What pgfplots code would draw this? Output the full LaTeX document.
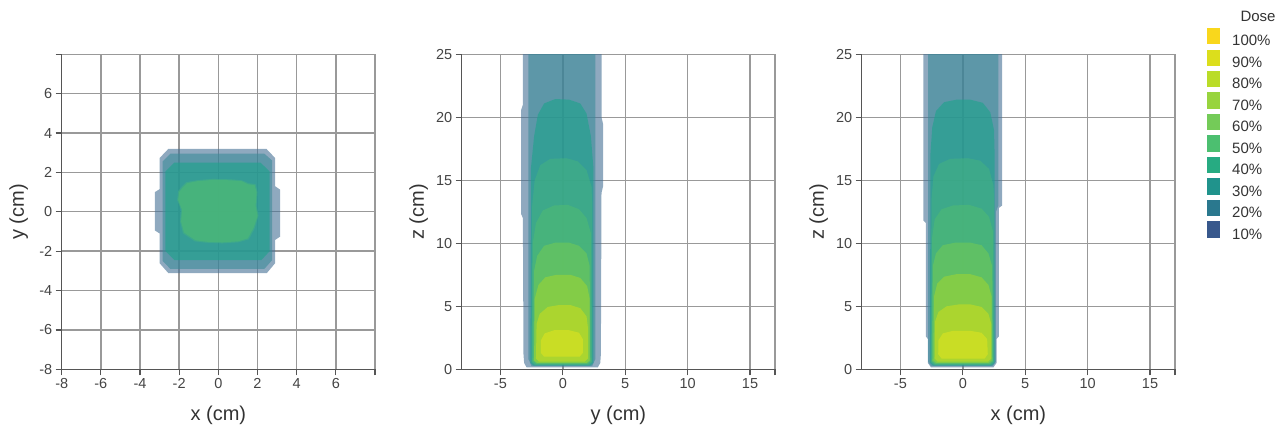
\documentclass[border=0pt]{standalone}
\usepackage{fontspec}
\setmainfont{Liberation Sans}
\usepackage{pgfplots}
\pgfplotsset{compat=1.18}

% legend colours
\definecolor{c10}{HTML}{38588C}
\definecolor{c20}{HTML}{2A788E}
\definecolor{c30}{HTML}{20938C}
\definecolor{c40}{HTML}{27AB82}
\definecolor{c50}{HTML}{4CBF70}
\definecolor{c60}{HTML}{74CB58}
\definecolor{c70}{HTML}{98D43E}
\definecolor{c80}{HTML}{BADC28}
\definecolor{c90}{HTML}{DCDE1C}
\definecolor{c100}{HTML}{F9D71C}
% translucent layer colours (stacked on top of each other)
\definecolor{f10}{RGB}{68,112,148}
\definecolor{f20}{RGB}{60,139,153}
\definecolor{f30}{RGB}{28,163,140}
\definecolor{f40}{RGB}{67,178,130}
\definecolor{f50}{RGB}{80,186,116}
\definecolor{f60}{RGB}{111,202,86}
\definecolor{f70}{RGB}{156,212,53}
\definecolor{f80}{RGB}{199,220,32}
\definecolor{f90}{RGB}{222,227,31}
\definecolor{gridc}{HTML}{999999}
\definecolor{axc}{HTML}{555555}
\definecolor{tickc}{HTML}{444444}
\definecolor{labc}{HTML}{333333}

\pgfplotsset{
  panel/.style={
    scale only axis, width=313.3bp, height=315bp, anchor=south west,
    axis x line*=bottom, axis y line*=left,
    axis line style={draw=axc, line width=1.3bp},
    grid=major, grid style={draw=gridc, line width=1.4bp},
    tick align=outside, major tick length=6bp,
    tick style={draw=axc, line width=1.2bp},
    ticklabel style={font=\fontsize{14.5bp}{16bp}\selectfont, text=tickc},
    label style={font=\fontsize{20bp}{22bp}\selectfont, text=labc},
    xlabel style={at={(axis description cs:0.5,-0.145)}, anchor=center},
    ylabel style={at={(axis description cs:-0.137,0.5)}, anchor=center},
    /pgf/number format/assume math mode=true,
  },
  side/.style={panel, xmin=-8.1, xmax=17, ymin=0, ymax=25,
    xtick={-5,0,5,10,15}, xticklabels={-5,0,5,10,15},
    ytick={0,5,...,25},
    extra x ticks={17}, extra x tick labels={},
    extra x tick style={grid=major}},
  lvl/.style={fill=#1, fill opacity=0.6, draw=none, forget plot},
}

\begin{document}
\begin{tikzpicture}
\path[use as bounding box] (0,0) rectangle (1282bp,432bp);

% ---- transverse slice (x-y)
\begin{axis}[panel, at={(61.7bp,62.7bp)},
  xmin=-8, xmax=8, ymin=-8, ymax=8,
  xtick={-8,-6,...,8}, xticklabels={-8,-6,-4,-2,0,2,4,6,{}},
  ytick={-8,-6,...,8}, yticklabels={-8,-6,-4,-2,0,2,4,6,{}},
  xlabel={x (cm)}, ylabel={y (cm)}]
\addplot[lvl=f10] coordinates {(-2.55,3.2) (2.45,3.2) (2.9,2.73) (2.9,1.3) (3.16,1.12) (3.16,-1.26) (2.9,-1.43) (2.9,-2.61) (2.47,-3.12) (-2.55,-3.12) (-3.0,-2.61) (-3.0,-1.1) (-3.24,-0.95) (-3.24,1.0) (-3.0,1.15) (-3.0,2.73)} -- cycle;
\addplot[lvl=f20] coordinates {(-2.45,2.95) (2.35,2.95) (2.75,2.6) (2.75,-2.45) (2.35,-2.9) (-2.45,-2.9) (-2.85,-2.5) (-2.85,2.55)} -- cycle;
\addplot[lvl=f30] coordinates {(-2.25,2.5) (2.15,2.5) (2.62,2.05) (2.62,-2.0) (2.2,-2.45) (-2.25,-2.45) (-2.7,-2.0) (-2.7,2.05)} -- cycle;
\addplot[lvl=f40] coordinates {(-1.65,1.5) (-1.1,1.6) (-0.3,1.67) (0.6,1.65) (1.2,1.6) (1.55,1.45) (1.9,1.4) (2.0,1.0) (1.95,0.3) (2.05,-0.2) (1.85,-0.85) (1.55,-1.4) (1.0,-1.55) (0.2,-1.6) (-0.6,-1.57) (-1.2,-1.5) (-1.8,-1.1) (-1.95,-0.5) (-1.9,0.1) (-2.1,0.6) (-2.05,1.05) (-1.85,1.3)} -- cycle;
\addplot[lvl=f50] coordinates {(-1.6,1.45) (-1.1,1.55) (-0.3,1.62) (0.6,1.6) (1.2,1.55) (1.5,1.4) (1.85,1.35) (1.95,1.0) (1.9,0.3) (2.0,-0.2) (1.8,-0.8) (1.5,-1.35) (1.0,-1.5) (0.2,-1.55) (-0.6,-1.52) (-1.15,-1.45) (-1.75,-1.05) (-1.9,-0.5) (-1.85,0.1) (-2.05,0.6) (-2.0,1.0) (-1.8,1.25)} -- cycle;
\end{axis}

% ---- depth profile (y-z)
\begin{axis}[side, at={(461.7bp,62.7bp)}, xlabel={y (cm)}, ylabel={z (cm)}]
\addplot[lvl=f10] coordinates {(-3.2,25.5) (-3.2,21) (-3.33,20.6) (-3.33,12.3) (-3.2,12) (-3.15,1.2) (-3.1,0.5) (-2.9,0.15) (2.8,0.15) (3.0,0.5) (3.05,1.2) (3.1,14) (3.22,14.5) (3.22,19.5) (3.1,20) (3.1,25.5)} -- cycle;
\addplot[lvl=f20] coordinates {(-2.75,25.5) (-2.75,0.8) (-2.5,0.25) (2.35,0.25) (2.6,0.8) (2.6,25.5)} -- cycle;
\addplot[lvl=f30] coordinates {(-2.6,0.5) (-2.55,16) (-2.3,18.5) (-2.0,20.2) (-1.5,21.1) (-0.6,21.45) (0.5,21.4) (1.4,21.1) (1.9,20.3) (2.25,18.5) (2.45,16) (2.45,0.5) (2.2,0.3) (-2.35,0.3)} -- cycle;
\addplot[lvl=f40] coordinates {(-2.5,0.55) (-2.45,13) (-2.25,15) (-1.8,16.2) (-1.0,16.7) (0.3,16.75) (1.2,16.5) (1.9,15.8) (2.3,14.5) (2.35,13) (2.35,0.55) (2.1,0.35) (-2.25,0.35)} -- cycle;
\addplot[lvl=f50] coordinates {(-2.45,0.6) (-2.4,10) (-2.15,11.6) (-1.6,12.6) (-0.7,13.0) (0.4,13.05) (1.3,12.7) (1.9,12.0) (2.25,10.8) (2.3,0.6) (2.05,0.4) (-2.2,0.4)} -- cycle;
\addplot[lvl=f60] coordinates {(-2.35,0.65) (-2.3,7.8) (-2.05,9.0) (-1.5,9.8) (-0.6,10.05) (0.5,10.05) (1.3,9.8) (1.9,9.2) (2.15,8.2) (2.2,0.65) (1.95,0.45) (-2.1,0.45)} -- cycle;
\addplot[lvl=f70] coordinates {(-2.3,0.7) (-2.25,5.6) (-1.95,6.7) (-1.4,7.3) (-0.5,7.5) (0.6,7.5) (1.4,7.25) (1.95,6.6) (2.15,5.6) (2.15,0.7) (1.9,0.5) (-2.05,0.5)} -- cycle;
\addplot[lvl=f80] coordinates {(-2.15,0.85) (-2.1,3.6) (-1.85,4.4) (-1.2,4.95) (-0.3,5.1) (0.6,5.1) (1.4,4.85) (1.9,4.2) (2.0,3.4) (2.0,0.85) (1.75,0.6) (-1.9,0.6)} -- cycle;
\addplot[lvl=f90] coordinates {(-1.75,1.3) (-1.75,2.3) (-1.45,2.85) (-0.7,3.1) (0.5,3.1) (1.3,2.9) (1.6,2.4) (1.6,1.3) (1.35,1.0) (-1.5,1.0)} -- cycle;
\end{axis}

% ---- depth profile (x-z)
\begin{axis}[side, at={(861.7bp,62.7bp)}, xlabel={x (cm)}, ylabel={z (cm)},
  legend style={at={(axis description cs:1.102,1.084)}, anchor=north west,
    draw=none, fill=none, inner sep=0pt, row sep=2.1bp,
    font=\fontsize{15bp}{17bp}\selectfont, text=labc,
    nodes={inner xsep=0pt, inner ysep=0pt},
    /tikz/every odd column/.append style={column sep=12bp}},
  legend cell align=left,
  legend image code/.code={\fill[#1, draw=none] (0bp,-2.8bp) rectangle (13bp,13.4bp);}]
\addplot[lvl=f10] coordinates {(-3.15,25.5) (-3.15,11.8) (-2.95,11.6) (-2.95,2.6) (-2.8,2.4) (-2.8,0.5) (-2.55,0.15) (2.45,0.15) (2.7,0.5) (2.7,2.4) (2.88,2.6) (2.88,12.8) (3.15,13.0) (3.15,25.5)} -- cycle;
\addplot[lvl=f20] coordinates {(-2.78,25.5) (-2.78,0.6) (-2.55,0.25) (2.4,0.25) (2.65,0.6) (2.65,12.5) (2.85,13) (2.85,25.5)} -- cycle;
\addplot[lvl=f30] coordinates {(-2.62,0.5) (-2.6,17) (-2.45,19.2) (-2.15,20.5) (-1.5,21.2) (-0.5,21.4) (0.6,21.4) (1.6,21.15) (2.2,20.4) (2.5,19.0) (2.55,17) (2.55,0.5) (2.3,0.3) (-2.4,0.3)} -- cycle;
\addplot[lvl=f40] coordinates {(-2.55,0.55) (-2.5,13.5) (-2.35,15.3) (-1.9,16.3) (-1.0,16.7) (0.4,16.75) (1.4,16.55) (2.1,15.9) (2.45,14.6) (2.5,13.5) (2.5,0.55) (2.25,0.35) (-2.3,0.35)} -- cycle;
\addplot[lvl=f50] coordinates {(-2.5,0.6) (-2.45,10.5) (-2.25,11.9) (-1.7,12.7) (-0.8,13.0) (0.5,13.05) (1.5,12.75) (2.1,12.1) (2.4,11.0) (2.45,0.6) (2.2,0.4) (-2.25,0.4)} -- cycle;
\addplot[lvl=f60] coordinates {(-2.45,0.65) (-2.4,8.2) (-2.15,9.2) (-1.6,9.85) (-0.6,10.05) (0.6,10.05) (1.5,9.85) (2.05,9.2) (2.35,8.2) (2.4,0.65) (2.15,0.45) (-2.2,0.45)} -- cycle;
\addplot[lvl=f70] coordinates {(-2.35,0.7) (-2.3,5.8) (-2.05,6.8) (-1.5,7.35) (-0.5,7.55) (0.6,7.55) (1.5,7.3) (2.05,6.7) (2.3,5.8) (2.3,0.7) (2.05,0.5) (-2.1,0.5)} -- cycle;
\addplot[lvl=f80] coordinates {(-2.25,0.85) (-2.22,3.8) (-1.95,4.55) (-1.3,5.0) (-0.3,5.15) (0.6,5.15) (1.5,4.95) (2.05,4.4) (2.28,3.6) (2.28,0.85) (2.0,0.6) (-2.0,0.6)} -- cycle;
\addplot[lvl=f90] coordinates {(-1.97,1.2) (-1.95,2.3) (-1.6,2.85) (-0.8,3.05) (0.6,3.05) (1.5,2.9) (1.95,2.4) (2.0,1.2) (1.75,0.85) (-1.7,0.85)} -- cycle;
\addlegendimage{fill=c100}\addlegendentry{100\%}
\addlegendimage{fill=c90}\addlegendentry{90\%}
\addlegendimage{fill=c80}\addlegendentry{80\%}
\addlegendimage{fill=c70}\addlegendentry{70\%}
\addlegendimage{fill=c60}\addlegendentry{60\%}
\addlegendimage{fill=c50}\addlegendentry{50\%}
\addlegendimage{fill=c40}\addlegendentry{40\%}
\addlegendimage{fill=c30}\addlegendentry{30\%}
\addlegendimage{fill=c20}\addlegendentry{20\%}
\addlegendimage{fill=c10}\addlegendentry{10\%}
\end{axis}

\node[font=\fontsize{15bp}{17bp}\selectfont, text=labc] at (1258bp,416bp) {Dose};
\end{tikzpicture}
\end{document}
